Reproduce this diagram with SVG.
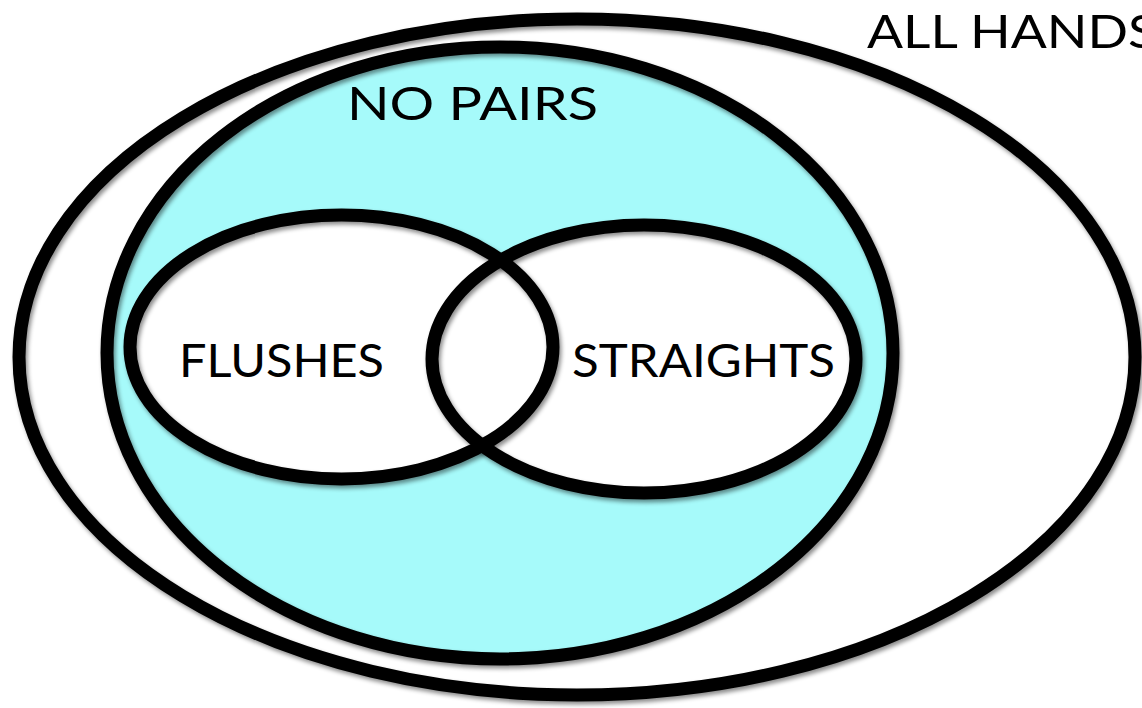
<svg xmlns="http://www.w3.org/2000/svg" width="1142" height="708" viewBox="0 0 1142 708">
  <defs>
    <filter id="sh" x="-5%" y="-5%" width="110%" height="110%">
      <feDropShadow dx="2" dy="3" stdDeviation="2" flood-color="#000" flood-opacity="0.45"/>
    </filter>
    <style>
      .ring { fill: none; stroke: #000; stroke-width: 13; }
      .lbl { font-family: Lato, "Open Sans", "Liberation Sans", sans-serif; font-size: 46px; fill: #000; font-weight: 400; }
    </style>
  </defs>
  <rect width="1142" height="708" fill="#fff"/>
  <g id="fills">
    <ellipse cx="500" cy="353" rx="393" ry="306" fill="#a6fafa"/>
    <ellipse cx="341.5" cy="347" rx="211.5" ry="132" fill="#fff"/>
    <ellipse cx="644" cy="359" rx="212" ry="134" fill="#fff"/>
  </g>
  <g id="all-hands">
    <ellipse class="ring" cx="577" cy="357" rx="558" ry="338" filter="url(#sh)"/>
    <text class="lbl" x="867" y="48" textLength="290" lengthAdjust="spacingAndGlyphs">ALL HANDS</text>
  </g>
  <g id="no-pairs">
    <ellipse class="ring" cx="500" cy="353" rx="393" ry="306" filter="url(#sh)"/>
    <text class="lbl" x="347" y="120" textLength="251" lengthAdjust="spacingAndGlyphs">NO PAIRS</text>
  </g>
  <g id="flushes">
    <ellipse class="ring" cx="341.5" cy="347" rx="211.5" ry="132" filter="url(#sh)"/>
    <text class="lbl" x="179" y="377" textLength="205" lengthAdjust="spacingAndGlyphs">FLUSHES</text>
  </g>
  <g id="straights">
    <ellipse class="ring" cx="644" cy="359" rx="212" ry="134" filter="url(#sh)"/>
    <text class="lbl" x="572" y="377" textLength="263" lengthAdjust="spacingAndGlyphs">STRAIGHTS</text>
  </g>
  <g id="connectors"/>
</svg>
